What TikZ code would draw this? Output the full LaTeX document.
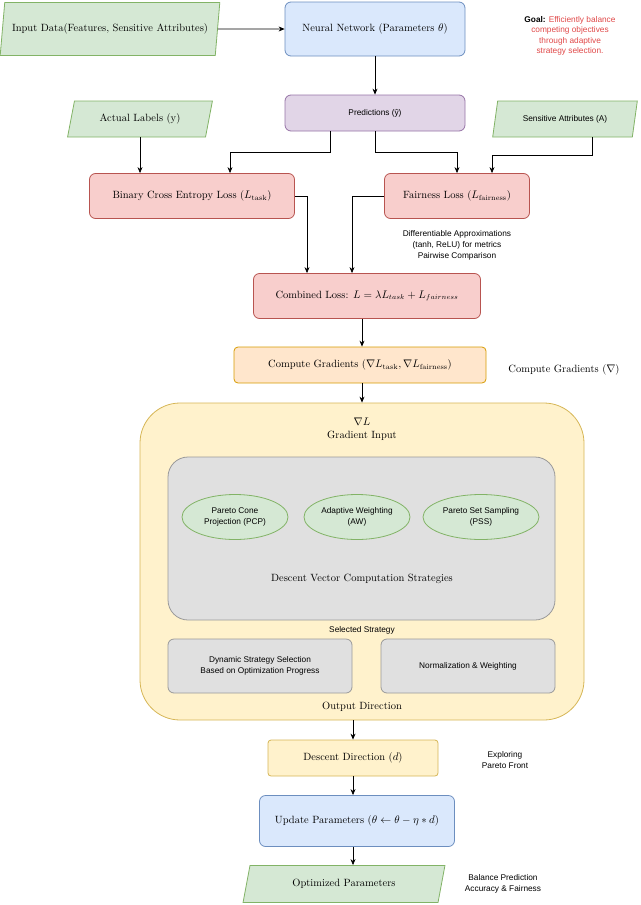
\documentclass[tikz,border=0pt]{standalone}
\usepackage{amsmath}
\usepackage{fontspec}
\newfontfamily\sans{Liberation Sans}
\usetikzlibrary{shapes.geometric,arrows.meta}
\definecolor{gF}{HTML}{D5E8D4}\definecolor{gD}{HTML}{82B366}
\definecolor{bF}{HTML}{DAE8FC}\definecolor{bD}{HTML}{6C8EBF}
\definecolor{pF}{HTML}{E1D5E7}\definecolor{pD}{HTML}{9673A6}
\definecolor{rF}{HTML}{F8CECC}\definecolor{rD}{HTML}{B85450}
\definecolor{oF}{HTML}{FFE6CC}\definecolor{oD}{HTML}{D79B00}
\definecolor{yF}{HTML}{FFF2CC}\definecolor{yD}{HTML}{D6B656}
\definecolor{kF}{HTML}{E0E0E0}\definecolor{kD}{HTML}{9A9A9A}
\definecolor{goalred}{HTML}{E04848}
\tikzset{
 box/.style={draw, rounded corners=6pt, line width=0.8pt, inner sep=0pt, align=center, font=\fontsize{10.5}{12}\selectfont},
 para/.style={draw=gD, fill=gF, line width=0.8pt, trapezium, trapezium left angle=68, trapezium right angle=112, trapezium stretches=true, inner sep=0pt, align=center, font=\fontsize{10.5}{12}\selectfont},
 lbl/.style={align=center, inner sep=0pt, font=\sans\fontsize{8.3}{11}\selectfont},
 ser/.style={align=center, inner sep=0pt, font=\fontsize{10.5}{13}\selectfont},
 ell/.style={ellipse, draw=gD, fill=gF, line width=0.8pt, inner sep=0pt, align=center, font=\sans\fontsize{8.3}{11}\selectfont},
 arr/.style={-{Stealth[length=6pt,width=5pt]}, line width=0.7pt},
}
\begin{document}
\begin{tikzpicture}[x=1pt,y=-1pt]
\useasboundingbox (0,0) rectangle (640,905);
\node[para, minimum width=220pt, minimum height=53pt] (inp) at (110,29) {Input Data(Features, Sensitive Attributes)};
\node[box, draw=bD, fill=bF, minimum width=180pt, minimum height=54pt] (nn) at (375,29) {Neural Network (Parameters $\theta$)};
\node[lbl, font=\sans\fontsize{8.3}{10.5}\selectfont] (goal) at (570,36) {\textbf{Goal:} \textcolor{goalred}{Efficiently balance}\\\textcolor{goalred}{competing objectives}\\\textcolor{goalred}{through adaptive}\\\textcolor{goalred}{strategy selection.}};
\node[box, draw=pD, fill=pF, font=\sans\fontsize{8.3}{11}\selectfont, minimum width=180pt, minimum height=36pt] (pred) at (375,113) {Predictions (\^y)};
\node[para, minimum width=145pt, minimum height=36pt] (act) at (140,119) {Actual Labels (y)};
\node[para, font=\sans\fontsize{8.3}{11}\selectfont, minimum width=145pt, minimum height=36pt] (sens) at (565,119) {Sensitive Attributes (A)};
\node[box, draw=rD, fill=rF, minimum width=205pt, minimum height=45pt] (bce) at (192,196) {Binary Cross Entropy Loss ($L_{\text{task}}$)};
\node[box, draw=rD, fill=rF, minimum width=145pt, minimum height=45pt] (fair) at (457,196) {Fairness Loss ($L_{\text{fairness}}$)};
\node[lbl] (diff) at (457,245) {Differentiable Approximations\\(tanh, ReLU) for metrics\\Pairwise Comparison};
\node[box, draw=rD, fill=rF, minimum width=227pt, minimum height=45pt] (comb) at (367,296) {Combined Loss: $L=\lambda L_{task}+L_{fairness}$};
\node[box, draw=oD, fill=oF, minimum width=252pt, minimum height=36pt, rounded corners=4pt] (cg) at (360,365) {Compute Gradients ($\nabla L_{\text{task}}, \nabla L_{\text{fairness}}$)};
\node[ser] (cgl) at (564,370) {Compute Gradients ($\nabla$)};
\node[box, draw=yD, fill=yF, minimum width=444pt, minimum height=317pt, rounded corners=40pt] (cont) at (362,561.5) {};
\node[ser] (gin) at (362,429) {$\nabla L$\\Gradient Input};
\node[box, draw=kD, fill=kF, minimum width=387pt, minimum height=163pt, rounded corners=20pt] (grey) at (361.5,538.5) {};
\node[ell, minimum width=106pt, minimum height=45pt] (pcp) at (235,517) {Pareto Cone\\Projection (PCP)};
\node[ell, minimum width=106pt, minimum height=45pt] (aw) at (357,517) {Adaptive Weighting\\(AW)};
\node[ell, minimum width=116pt, minimum height=45pt] (pss) at (481,517) {Pareto Set Sampling\\(PSS)};
\node[ser] (dvc) at (362,579) {Descent Vector Computation Strategies};
\node[lbl] (sel) at (362,630) {Selected Strategy};
\node[box, draw=kD, fill=kF, minimum width=184pt, minimum height=54pt, font=\sans\fontsize{8.3}{11}\selectfont] (dyn) at (260,666) {Dynamic Strategy Selection\\Based on Optimization Progress};
\node[box, draw=kD, fill=kF, minimum width=174pt, minimum height=54pt, font=\sans\fontsize{8.3}{11}\selectfont] (norm) at (468,666) {Normalization \& Weighting};
\node[ser] (od) at (362,707) {Output Direction};
\node[box, draw=yD, fill=yF, minimum width=170pt, minimum height=36pt, rounded corners=3pt] (dd) at (353,758) {Descent Direction ($d$)};
\node[lbl] (exp) at (505,760) {Exploring\\Pareto Front};
\node[box, draw=bD, fill=bF, minimum width=195pt, minimum height=51pt] (up) at (357,821) {Update Parameters ($\theta \leftarrow \theta - \eta * d$)};
\node[para, minimum width=202pt, minimum height=37pt] (opt) at (344,884) {Optimized Parameters};
\node[lbl] (bal) at (503,884) {Balance Prediction\\Accuracy \& Fairness};
% connectors
\draw[arr] (inp.east) -- (nn.west);
\draw[arr] (nn) -- (pred);
\draw[arr] (act.south) -- (act.south |- bce.north);
\draw[arr] (pred.south -| 330,0) |- (230,152) -- (230,0 |- bce.north);
\draw[arr] (pred.south) |- (457,152) -- (fair.north);
\draw[arr] (592,137) |- (492,155) -- (492,0 |- fair.north);
\draw[arr] (bce.east) -| (307,0 |- comb.north);
\draw[arr] (fair.west) -| (352,0 |- comb.north);
\draw[arr] (362,0 |- comb.south) -- (362,0 |- cg.north);
\draw[arr] (362,0 |- cg.south) -- (362,0 |- cont.north);
\draw[arr] (353,0 |- cont.south) -- (dd.north);
\draw[arr] (dd.south) -- (353,0 |- up.north);
\draw[arr] (353,0 |- up.south) -- (353,0 |- opt.north);
\end{tikzpicture}
\end{document}
